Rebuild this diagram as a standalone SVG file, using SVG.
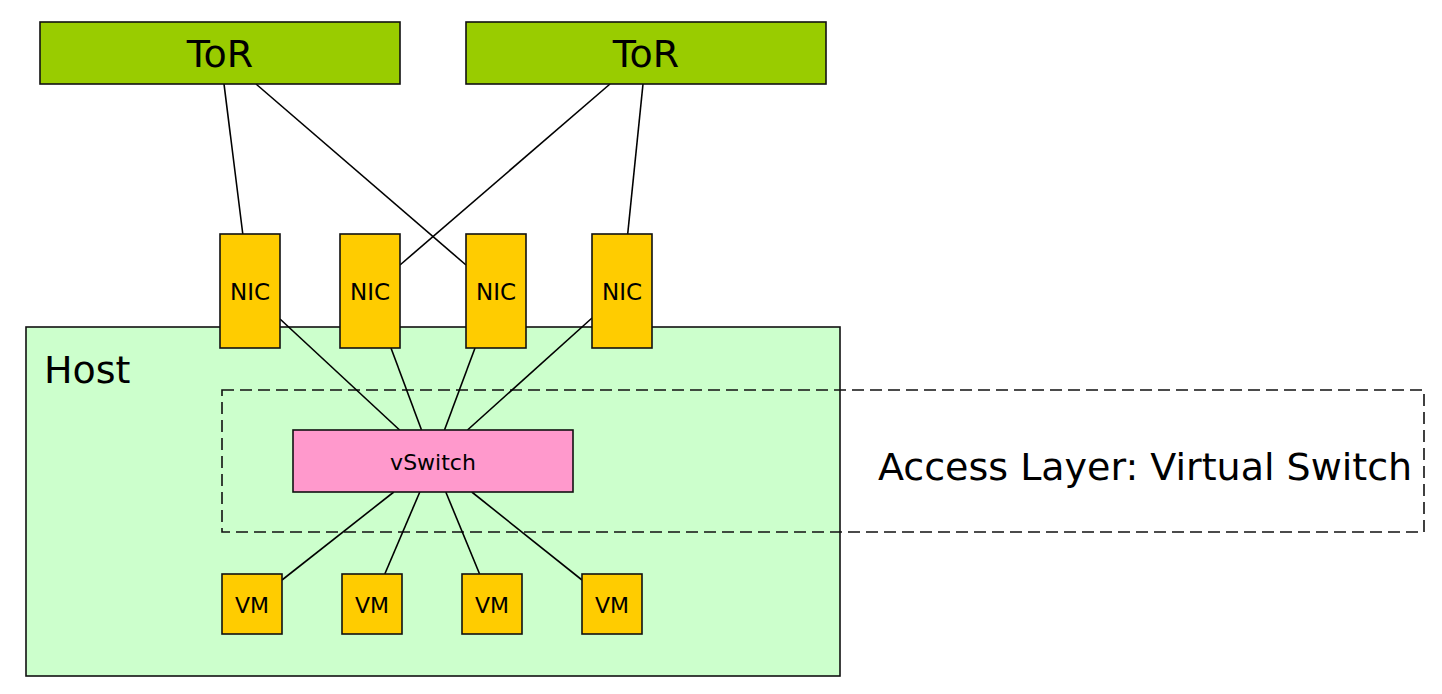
<svg xmlns="http://www.w3.org/2000/svg" width="1442" height="694" viewBox="0 0 1442 694">
<style>
text{font-family:"DejaVu Sans","Liberation Sans",sans-serif;fill:#000}
.box{stroke:#111;stroke-width:1.6}
.tor{fill:#99cc00}
.y{fill:#ffcc00}
.c{text-anchor:middle}
.conn line{stroke:#000;stroke-width:1.6}
</style>
<rect width="1442" height="694" fill="#fff"/>
<g id="host">
<rect class="box" x="26" y="327" width="814" height="349" fill="#ccffcc"/>
<text x="44" y="383" font-size="38">Host</text>
</g>
<g id="access-layer">
<rect x="222" y="390" width="1202" height="142" fill="none" stroke="#111" stroke-width="1.6" stroke-dasharray="12,6"/>
<text x="878" y="480" font-size="38">Access Layer: Virtual Switch</text>
</g>
<g id="connectors" class="conn">
<line x1="224" y1="84" x2="242.8" y2="234"/>
<line x1="256" y1="84" x2="466" y2="265"/>
<line x1="610" y1="84" x2="400" y2="265"/>
<line x1="643" y1="84" x2="627.7" y2="234"/>
<line x1="280" y1="319" x2="399.6" y2="430"/>
<line x1="391" y1="348" x2="421.5" y2="430"/>
<line x1="475" y1="348" x2="444.5" y2="430"/>
<line x1="592" y1="318" x2="467.5" y2="430"/>
<line x1="393.8" y1="492" x2="282" y2="580"/>
<line x1="419.8" y1="492" x2="384.8" y2="574"/>
<line x1="445.8" y1="492" x2="479.6" y2="574"/>
<line x1="471.8" y1="492" x2="582" y2="580"/>
</g>
<g id="tor1"><rect class="box tor" x="40" y="22" width="360" height="62"/><text class="c" x="220" y="67" font-size="38">ToR</text></g>
<g id="tor2"><rect class="box tor" x="466" y="22" width="360" height="62"/><text class="c" x="646" y="67" font-size="38">ToR</text></g>
<g id="nic1"><rect class="box y" x="220" y="234" width="60" height="114"/><text class="c" x="250" y="300" font-size="23">NIC</text></g>
<g id="nic2"><rect class="box y" x="340" y="234" width="60" height="114"/><text class="c" x="370" y="300" font-size="23">NIC</text></g>
<g id="nic3"><rect class="box y" x="466" y="234" width="60" height="114"/><text class="c" x="496" y="300" font-size="23">NIC</text></g>
<g id="nic4"><rect class="box y" x="592" y="234" width="60" height="114"/><text class="c" x="622" y="300" font-size="23">NIC</text></g>
<g id="vswitch"><rect class="box" x="293" y="430" width="280" height="62" fill="#ff99cc"/><text class="c" x="433" y="470" font-size="22">vSwitch</text></g>
<g id="vm1"><rect class="box y" x="222" y="574" width="60" height="60"/><text class="c" x="252" y="613" font-size="22">VM</text></g>
<g id="vm2"><rect class="box y" x="342" y="574" width="60" height="60"/><text class="c" x="372" y="613" font-size="22">VM</text></g>
<g id="vm3"><rect class="box y" x="462" y="574" width="60" height="60"/><text class="c" x="492" y="613" font-size="22">VM</text></g>
<g id="vm4"><rect class="box y" x="582" y="574" width="60" height="60"/><text class="c" x="612" y="613" font-size="22">VM</text></g>
</svg>
